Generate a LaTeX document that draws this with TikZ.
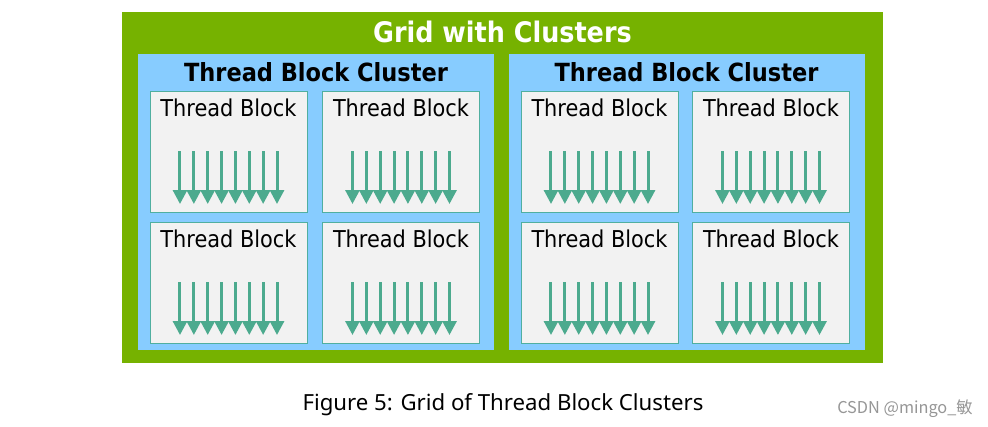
\documentclass[tikz,border=0pt]{standalone}
\usepackage{fontspec}
\setmainfont{DejaVu Sans Condensed}
\newfontfamily\captionfont{Noto Sans}
\newfontfamily\cjkfont{Noto Sans CJK SC}
\usetikzlibrary{arrows.meta}

\definecolor{gridgreen}{RGB}{118,178,0}
\definecolor{clusterblue}{RGB}{135,204,255}
\definecolor{blockgray}{RGB}{242,242,242}
\definecolor{blockedge}{RGB}{80,175,160}
\definecolor{threadgreen}{RGB}{76,170,142}
\definecolor{marktext}{RGB}{150,150,150}

\tikzset{
  blockbox/.style={fill=blockgray, draw=blockedge, line width=1pt,
    minimum width=157pt, minimum height=121pt, inner sep=0pt},
  thread/.style={->, threadgreen, line width=3pt}
}

\begin{document}
\begin{tikzpicture}[x=1pt,y=-1pt,>={Triangle[width=14pt,length=14pt]}]
        \useasboundingbox[fill=white] (0,0) rectangle (988,426);

        % the grid
        \fill[gridgreen] (122,12) rectangle (883,363);
        \node[white, font=\bfseries\fontsize{28.3}{30}\selectfont] (gridtitle) at (502.5,32) {Grid with Clusters};

        % the two clusters
        \foreach \cx/\cn in {316/1, 686.5/2} {
                \fill[clusterblue] (\cx-178,54) rectangle (\cx+178,350);
                \node[font=\bfseries\fontsize{25}{27}\selectfont] (clustertitle-\cn) at (\cx,72) {Thread Block Cluster};
        }

        % thread blocks with their threads
        \foreach \bx in {228.5,401,599.5,771} {
                \foreach \by/\row in {152/1,283/2} {
                        \node[blockbox] (blk-\bx-\row) at (\bx,\by) {};
                        \node[font=\fontsize{23.2}{25}\selectfont] (blklabel-\bx-\row) at (\bx,\by-44) {Thread Block};
                        % eight threads in each block
                        \foreach \i in {0,...,7}
                                \draw[thread] ({\bx+(\i-3.5)*13.86},{\by-1}) -- ({\bx+(\i-3.5)*13.86},{\by+52});
                }
        }

        % caption and mark
        \node[font=\captionfont\fontsize{22.2}{24}\selectfont] (caption) at (503,405) {Figure 5: Grid of Thread Block Clusters};
        \node[marktext, font=\cjkfont\fontsize{16.3}{18}\selectfont] (mark) at (905,409) {CSDN @mingo\_敏};
\end{tikzpicture}
\end{document}
